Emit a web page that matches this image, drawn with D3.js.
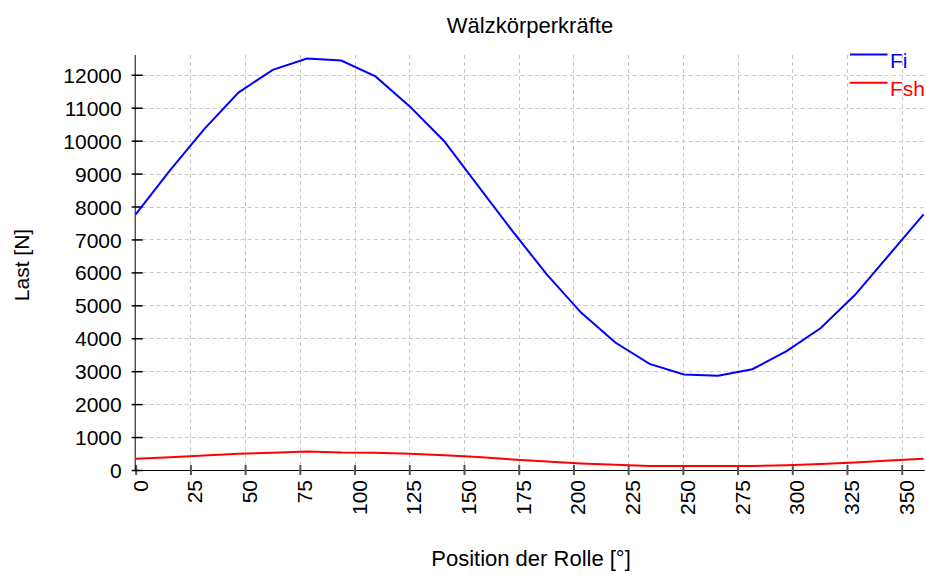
<!DOCTYPE html>
<html>
<head>
<meta charset="utf-8">
<script src="https://cdn.jsdelivr.net/npm/d3@7"></script>
<style>
  html, body { margin: 0; padding: 0; background: #fff; }
  svg text { font-family: "Liberation Sans", Arial, sans-serif; }
</style>
</head>
<body>
<svg id="chart" width="926" height="575"></svg>
<script>
const positions = [0, 15.652, 31.304, 46.957, 62.609, 78.261, 93.913, 109.565, 125.217, 140.87, 156.522, 172.174, 187.826, 203.478, 219.13, 234.783, 250.435, 266.087, 281.739, 297.391, 313.043, 328.696, 344.348, 360];
const fiValues = [7760, 9100, 10350, 11460, 12150, 12490, 12430, 11950, 11040, 9990, 8620, 7250, 5940, 4780, 3870, 3220, 2900, 2865, 3060, 3610, 4310, 5320, 6540, 7760];
const fshValues = [340, 390, 440, 490, 525, 565, 530, 525, 490, 445, 395, 320, 260, 200, 160, 125, 120, 120, 120, 145, 180, 230, 290, 340];
const xTicks = [0, 25, 50, 75, 100, 125, 150, 175, 200, 225, 250, 275, 300, 325, 350];
const yTicks = [0, 1000, 2000, 3000, 4000, 5000, 6000, 7000, 8000, 9000, 10000, 11000, 12000];
const seriesNames = ["Fi", "Fsh"];
const seriesColors = ["#0000ff", "#ff0000"];
const titleText = "Wälzkörperkräfte";
const xLabel = "Position der Rolle [°]";
const yLabel = "Last [N]";

(function () {
const svg = d3.select("#chart");
const pLeft = 135.7, pRight = 923.6, pTop = 55, pBottom = 470;
const x = d3.scaleLinear().domain([0, 360]).range([pLeft, pRight]);
const y = d3.scaleLinear().domain([0, 12600]).range([pBottom, pTop]);

// grid
const grid = svg.append("g");
grid.selectAll(".vg").data(xTicks.filter(d => d > 0)).enter().append("line")
  .attr("x1", d => Math.round(x(d)) + 0.5).attr("x2", d => Math.round(x(d)) + 0.5).attr("y1", pTop).attr("y2", pBottom)
  .attr("stroke", "#c8c8c8").attr("stroke-width", 1).attr("stroke-dasharray", "4,3");
grid.selectAll(".hg").data(yTicks.filter(d => d > 0)).enter().append("line")
  .attr("x1", pLeft).attr("x2", pRight + 1).attr("y1", d => Math.round(y(d)) + 0.5).attr("y2", d => Math.round(y(d)) + 0.5)
  .attr("stroke", "#c8c8c8").attr("stroke-width", 1).attr("stroke-dasharray", "4,3");

// axes
const xAxis = d3.axisBottom(x).tickValues(xTicks).tickSizeInner(5).tickSizeOuter(0).tickFormat(d3.format("d"));
const gx = svg.append("g").attr("transform", `translate(0,${pBottom})`).call(xAxis);
gx.select(".domain").attr("d", `M${pLeft},0.5H${pRight + 1}`).attr("stroke", "#000");
gx.selectAll(".tick line").attr("y1", -5).attr("y2", 5).attr("stroke", "#555").attr("stroke-width", 2);
gx.selectAll(".tick text")
  .attr("font-size", 21).attr("fill", "#000")
  .attr("x", -10).attr("y", 0).attr("dy", "0.36em")
  .style("text-anchor", "end")
  .attr("transform", "translate(4,0) rotate(-90)");

const yAxis = d3.axisLeft(y).tickValues(yTicks).tickSizeInner(5).tickSizeOuter(0).tickFormat(d3.format("d"));
const gy = svg.append("g").attr("transform", `translate(${pLeft},0)`).call(yAxis);
gy.select(".domain").attr("d", `M-0.5,${pTop}V${pBottom}`).attr("stroke", "#000");
gy.selectAll(".tick line").attr("x1", -4).attr("x2", 7).attr("stroke", "#000").attr("stroke-width", 1.5);
gy.selectAll(".tick text").attr("font-size", 21).attr("fill", "#000").attr("x", -14).attr("dy", "0.36em");

// lines
const line = d3.line().x((d, i) => x(positions[i])).y(d => y(d));
[fiValues, fshValues].forEach((vals, k) => {
  svg.append("path").datum(vals).attr("d", line)
    .attr("fill", "none").attr("stroke", seriesColors[k]).attr("stroke-width", 2);
});

// legend
const legend = svg.append("g");
seriesNames.forEach((name, k) => {
  const ly = 54.5 + k * 28.3;
  legend.append("line").attr("x1", 850).attr("x2", 887.5).attr("y1", ly).attr("y2", ly)
    .attr("stroke", seriesColors[k]).attr("stroke-width", 2);
  legend.append("text").attr("x", 890).attr("y", ly + 13).attr("font-size", 21)
    .attr("fill", seriesColors[k]).text(name);
});

// titles
svg.append("text").attr("x", 530).attr("y", 33).attr("text-anchor", "middle")
  .attr("font-size", 22).attr("fill", "#000").text(titleText);
svg.append("text").attr("x", 531).attr("y", 566).attr("text-anchor", "middle")
  .attr("font-size", 22).attr("fill", "#000").text(xLabel);
svg.append("text").attr("transform", "translate(29,265) rotate(-90)").attr("text-anchor", "middle")
  .attr("font-size", 21).attr("fill", "#000").text(yLabel);
})();
</script>
</body>
</html>
